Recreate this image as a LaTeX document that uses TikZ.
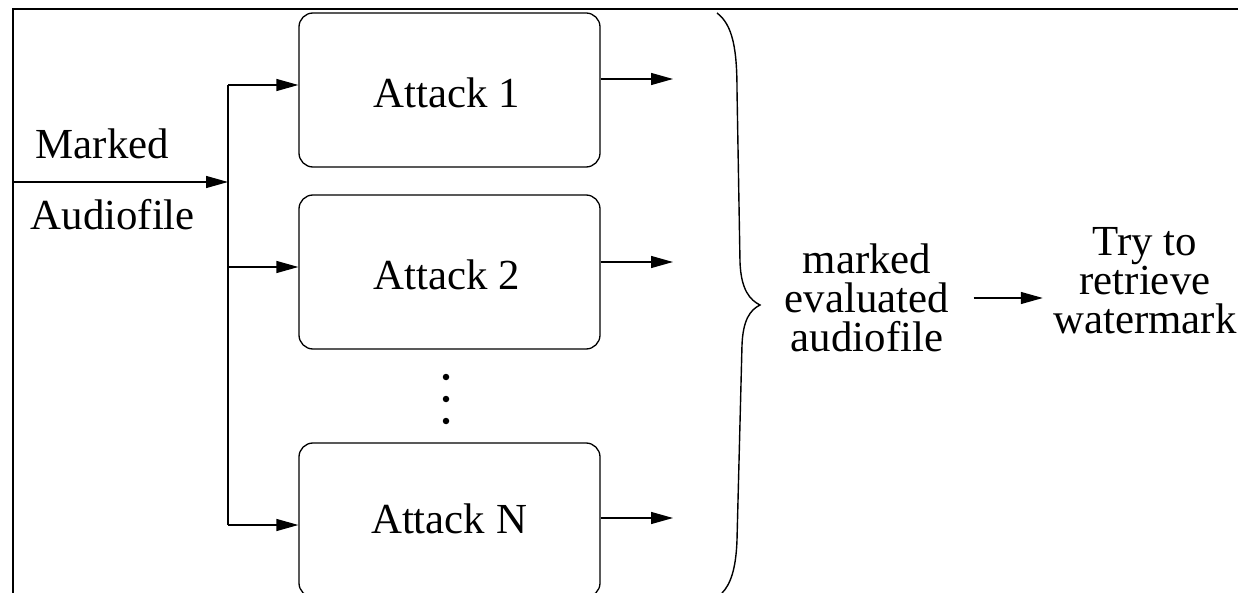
\documentclass[tikz,border=0pt]{standalone}
\usepackage{fontspec}
\setmainfont{Liberation Serif}
\usetikzlibrary{arrows.meta}
\begin{document}
\begin{tikzpicture}[x=1bp,y=-1bp,
  line width=1.3bp,
  txt/.style={font=\fontsize{43}{39}\selectfont, inner sep=0pt},
  attackbox/.style={draw, rounded corners=14bp, minimum width=301bp, minimum height=154bp, inner sep=0pt},
  arr/.style={-{Triangle[length=22bp,width=12bp]}},
  dotmark/.style={circle, fill=black, inner sep=0pt, minimum size=6.5bp}
]
\useasboundingbox (0,0) rectangle (1238,593);
\clip (0,0) rectangle (1238,593);
% frame
\coordinate (fbl) at (13,600);
\coordinate (ftl) at (13,9);
\coordinate (ftr) at (1240,9);
\draw (fbl) -- (ftl) -- (ftr);

% boxes
\node[attackbox] (b1) at (449.5,90) {};
\node[attackbox] (b2) at (449.5,272) {};
\node[attackbox] (bN) at (449.5,520) {};
\node[txt, anchor=base] (t1) at (447,108) {Attack 1};
\node[txt, anchor=base] (t2) at (447,290) {Attack 2};
\node[txt, anchor=base] (tN) at (449,533) {Attack N};

% dots
\node[dotmark] (d1) at (446,377) {};
\node[dotmark] (d2) at (446,399) {};
\node[dotmark] (d3) at (446,421) {};

% input
\node[txt, anchor=base west] (lm) at (35,159) {Marked};
\node[txt, anchor=base west] (la) at (30,230) {Audiofile};
\coordinate (in) at (13,182);
\coordinate (jin) at (228,182);
\coordinate (j1) at (228,85);
\coordinate (j2) at (228,267);
\coordinate (jN) at (228,525);
\draw[arr] (in) -- (jin);
\draw (j1) -- (jN);
\draw[arr] (j1) -- (b1.west |- j1);
\draw[arr] (j2) -- (b2.west |- j2);
\draw[arr] (jN) -- (bN.west |- jN);

% outputs
\coordinate (o1) at (673,79);
\coordinate (o2) at (673,262);
\coordinate (oN) at (673,518);
\draw[arr] (b1.east |- o1) -- (o1);
\draw[arr] (b2.east |- o2) -- (o2);
\draw[arr] (bN.east |- oN) -- (oN);

% brace
\draw[line width=1.4bp] (717,13) .. controls (733,25) and (737,50) .. (737,90)
  -- (740,262) .. controls (741,290) and (750,300) .. (760,305)
  .. controls (750,310) and (743,320) .. (742,345)
  -- (737,540) .. controls (736,570) and (730,585) .. (722,593);

% right texts
\node[txt, align=center] (mev) at (867,298) {marked\\evaluated\\audiofile};
\node[txt, align=center] (trw) at (1145,281) {Try to\\retrieve\\watermark};
\draw[arr, shorten <=24bp, shorten >=10bp] (mev.east) -- (mev.east -| trw.west);
\end{tikzpicture}
\end{document}
